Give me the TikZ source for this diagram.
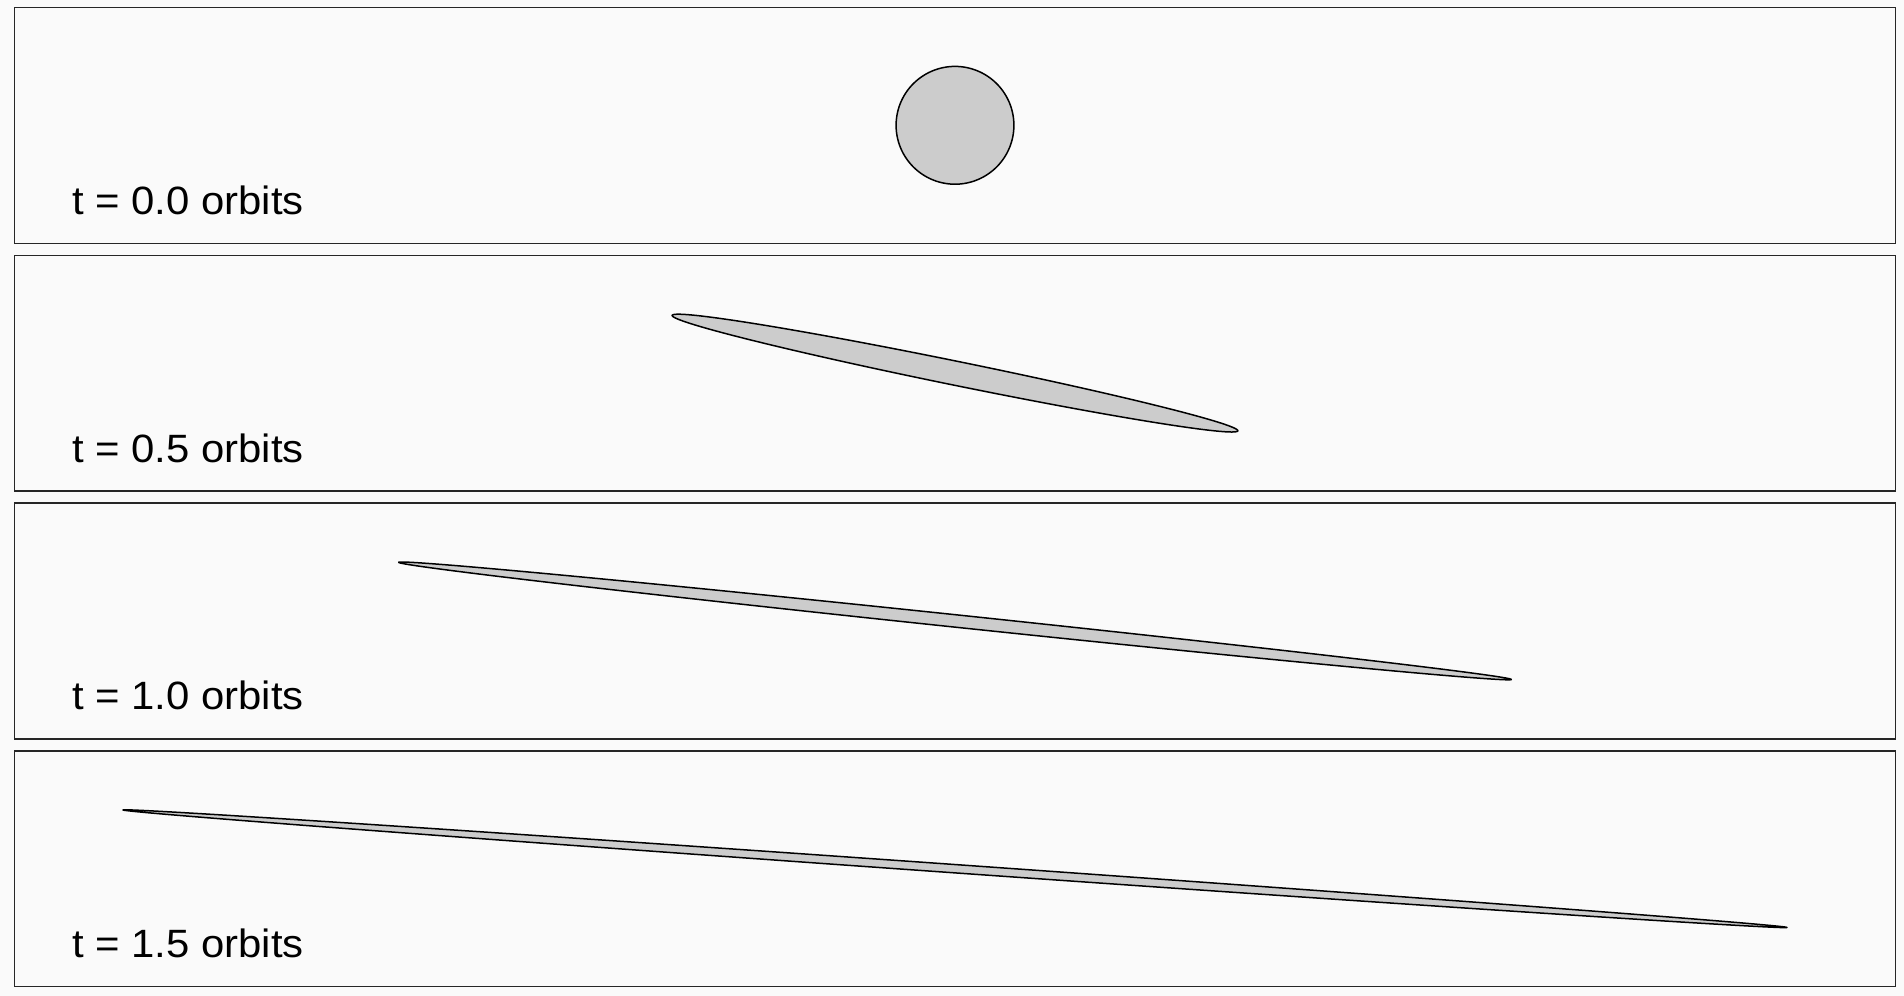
\documentclass[tikz,border=0pt]{standalone}
\usepackage{fontspec}
\setmainfont[FakeStretch=1.06]{Liberation Sans}
\definecolor{bgc}{HTML}{FAFAFA}
\definecolor{blobc}{HTML}{CCCCCC}
\begin{document}
\begin{tikzpicture}[x=1pt,y=-1pt,
  panel/.style={draw=black!85, line width=1.3pt, fill=bgc},
  blob/.style={draw=black, line width=1.5pt, fill=blobc, line join=round},
  lab/.style={anchor=base west, inner sep=0pt, font=\fontsize{39.5}{40}\selectfont, text=black}]
\fill[bgc] (0,0) rectangle (1904,996);
\useasboundingbox (0,0) rectangle (1904,996);
\foreach \k/\tt/\g in {0/0.0/0, 1/0.5/4.712389, 2/1.0/9.424778, 3/1.5/14.137167} {
  \pgfmathsetmacro\ptop{7.5+247.8*\k}
  \pgfmathsetmacro\pbot{\ptop+235.8}
  \pgfmathsetmacro\cy{\ptop+117.8}
  \pgfmathsetmacro\by{\ptop+206.8}
  \draw[panel] (14.5,\ptop) rectangle (1895.7,\pbot);
  \draw[blob] plot[domain=0:360, samples=721] ({955+58.9*cos(\x)+\g*58.7*sin(\x)}, {\cy+58.9*sin(\x)}) -- cycle;
  \node[lab] (lab\k) at (72,\by) {t = \tt\ orbits};
}
\end{tikzpicture}
\end{document}
